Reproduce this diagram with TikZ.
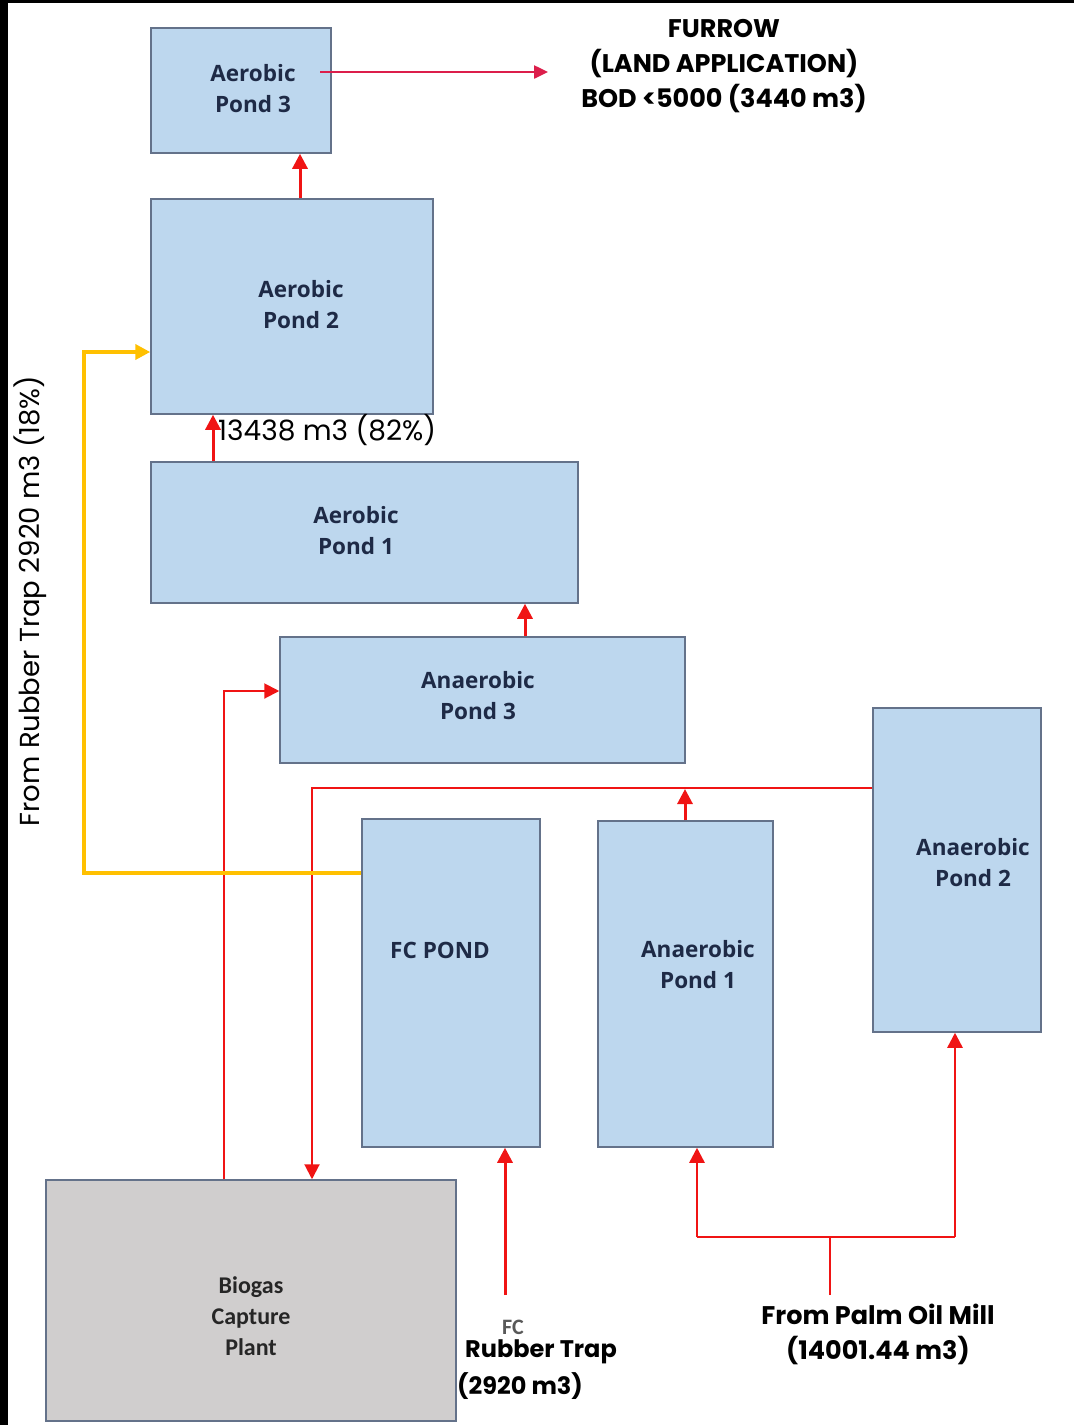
\documentclass[tikz,border=0pt]{standalone}
\usepackage{fontspec}
\setmainfont{Poppins}
\newfontfamily\boxfont{Open Sans}
\newfontfamily\calfont{Carlito}
\usetikzlibrary{arrows.meta,calc}
\definecolor{pondfill}{RGB}{189,215,238}
\definecolor{pondline}{RGB}{100,114,138}
\definecolor{biofill}{RGB}{208,206,206}
\definecolor{navytxt}{RGB}{30,42,70}
\definecolor{flowred}{RGB}{240,20,20}
\definecolor{crimson}{RGB}{220,30,75}
\definecolor{amber}{RGB}{255,192,0}
\tikzset{
  pond/.style={draw=pondline, line width=1.5pt, fill=pondfill, inner sep=0pt},
  biobox/.style={pond, fill=biofill},
  pondtxt/.style={align=center, inner sep=0pt, font=\boxfont\bfseries\fontsize{22.5}{31}\selectfont, text=navytxt},
  biotxt/.style={align=center, inner sep=0pt, font=\calfont\bfseries\fontsize{24}{31}\selectfont, text=black!85},
  redarr/.style={draw=flowred, line width=3pt, -{Triangle[length=15pt,width=15pt]}},
  redthin/.style={draw=flowred, line width=2pt},
  redthinarr/.style={redthin, -{Triangle[length=15pt,width=15pt]}},
  yelarr/.style={draw=amber, line width=4pt, -{Triangle[length=15pt,width=15pt]}},
  lbl/.style={font=\bfseries\fontsize{25.5}{35}\selectfont, align=center, inner sep=0pt},
}
\begin{document}
\begin{tikzpicture}[x=1pt,y=-1pt]
\fill[black] (0,0) rectangle (1074,1425);
\fill[white] (8,3) rectangle (1074,1425);
\useasboundingbox (0,0) rectangle (1074,1425);

% boxes
\node[pond, minimum width=180, minimum height=125] (ap3) at (241,90.5) {};
\node[pond, minimum width=282, minimum height=215] (ap2) at (292,306.5) {};
\node[pond, minimum width=427, minimum height=141] (ap1) at (364.5,532.5) {};
\node[pond, minimum width=405, minimum height=126] (anp3) at (482.5,700) {};
\node[pond, minimum width=178, minimum height=328] (fc) at (451,983) {};
\node[pond, minimum width=175, minimum height=326] (anp1) at (685.5,984) {};
\node[pond, minimum width=168, minimum height=324] (anp2) at (957,870) {};
\node[biobox, minimum width=410, minimum height=241] (bio) at (251,1300.5) {};

% box texts
\node[pondtxt] (ap3L) at (253,89) {Aerobic\\Pond 3};
\node[pondtxt] (ap2L) at (301,305) {Aerobic\\Pond 2};
\node[pondtxt] (ap1L) at (356,531) {Aerobic\\Pond 1};
\node[pondtxt] (anp3L) at (478,696) {Anaerobic\\Pond 3};
\node[pondtxt] (fcL) at (440,950) {FC POND};
\node[pondtxt] (anp1L) at (698,965) {Anaerobic\\Pond 1};
\node[pondtxt] (anp2L) at (973,863) {Anaerobic\\Pond 2};
\node[biotxt] (bioL) at (251,1316) {Biogas\\Capture\\Plant};

% labels
\node[lbl] (furrow) at (724,66) {FURROW\\(LAND APPLICATION)\\BOD <5000 (3440 m3)};
\node[font=\fontsize{28}{30}\selectfont, anchor=west, inner sep=0pt] (pct) at (218,430) {13438 m3 (82\%)};
\node[font=\fontsize{27.5}{30}\selectfont, rotate=90, inner sep=0pt] (rubber) at (30,601) {From Rubber Trap 2920 m3 (18\%)};
\node[font=\calfont\bfseries\fontsize{22}{24}\selectfont, text=black!65, inner sep=0pt] (fcsrc) at (513,1327) {FC};
\node[lbl, font=\bfseries\fontsize{24}{35}\selectfont, anchor=west] (rtrap) at (465,1352) {Rubber Trap};
\node[lbl, font=\bfseries\fontsize{24}{35}\selectfont, anchor=west] (rtrapv) at (457,1386) {(2920 m3)};
\node[lbl] (pom) at (878,1334) {From Palm Oil Mill\\(14001.44 m3)};

% connectors
\coordinate (f0) at (320,72);
\coordinate (f1) at (548,72);
\draw[draw=crimson, line width=2.5pt, -{Triangle[length=14pt,width=13pt]}] (f0) -- (f1);

\draw[redarr] (ap2.north -| 300,0) -- (ap3.south -| 300,0);
\draw[redarr] (ap1.north -| 213,0) -- (ap2.south -| 213,0);
\draw[redarr] (anp3.north -| 525,0) -- (ap1.south -| 525,0);

% biogas -> anaerobic pond 3
\draw[redthinarr] (bio.north -| 224,0) |- (anp3.west |- 0,691);
% anaerobic pond 2 -> biogas
\coordinate (hl) at (312,788);
\draw[redthinarr] (anp2.west |- hl) -- (hl) -- (bio.north -| hl);
% anaerobic pond 1 -> line
\draw[redarr] (anp1.north -| 685,0) -- (685,789);

% FC rubber trap
\coordinate (rt0) at (505,1295);
\draw[redarr] (rt0) -- (fc.south -| rt0);

% palm oil mill
\coordinate (pm0) at (830,1295);
\coordinate (pm1) at (830,1237);
\coordinate (pmL) at (697,1237);
\coordinate (pmR) at (955,1237);
\draw[redthin] (pm0) -- (pm1);
\draw[redthin] (pmL) -- (pmR);
\draw[redarr, line width=2.5pt] (pmL) -- (anp1.south -| pmL);
\draw[redarr, line width=2.5pt] (pmR) -- (anp2.south -| pmR);

% yellow from FC pond to aerobic pond 2
\coordinate (y1) at (84,873);
\coordinate (y2) at (84,352);
\draw[yelarr] (fc.west |- y1) -- (y1) -- (y2) -- (ap2.west |- y2);
\end{tikzpicture}
\end{document}
